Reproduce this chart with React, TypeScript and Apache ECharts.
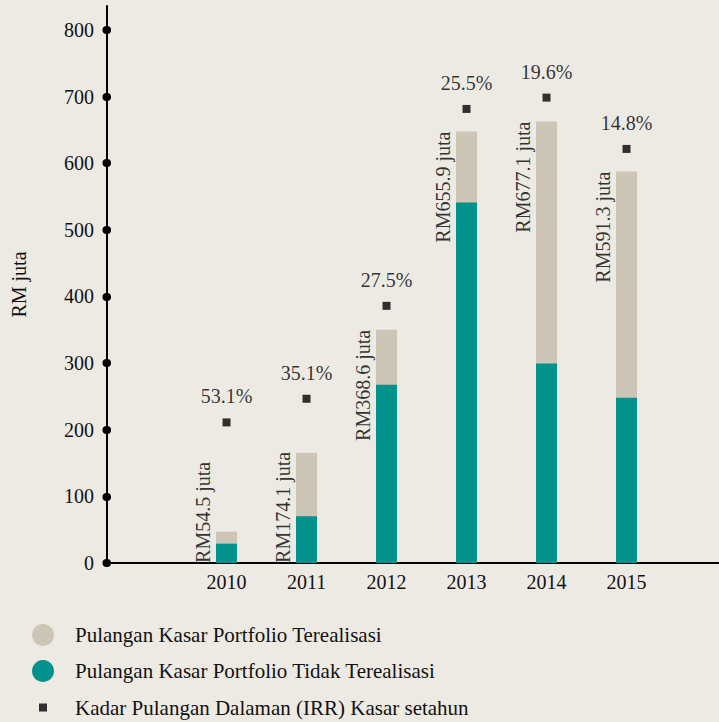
import React, { useEffect, useRef } from "react";
import * as echarts from "echarts";

const years = ["2010", "2011", "2012", "2013", "2014", "2015"];
const unrealised = [29, 70, 267.5, 541, 299.5, 248];
const realised = [18, 95.5, 82.5, 106.5, 363, 339.5];
const totalLabels = ["RM54.5 juta", "RM174.1 juta", "RM368.6 juta", "RM655.9 juta", "RM677.1 juta", "RM591.3 juta"];
const irrLevel = [211, 246.5, 386, 681.5, 698.5, 621.5];
const irrLabels = ["53.1%", "35.1%", "27.5%", "25.5%", "19.6%", "14.8%"];
const yTicks = [0, 100, 200, 300, 400, 500, 600, 700, 800];

const N_REAL = "Pulangan Kasar Portfolio Terealisasi";
const N_UNREAL = "Pulangan Kasar Portfolio Tidak Terealisasi";
const N_IRR = "Kadar Pulangan Dalaman (IRR) Kasar setahun";

const FONT = "'Liberation Serif', 'Times New Roman', serif";
const TXT = "#111111";
const GREY = "#cdc6b7";
const TEAL = "#00928b";
const BG = "#edeae4";

export default function App() {
  const ref = useRef<HTMLDivElement>(null);
  useEffect(() => {
    const chart = echarts.init(ref.current!, null, { renderer: "svg" });
    const totals = unrealised.map((v, i) => v + realised[i]);
    const legendText = (pad: number) => ({
      fontSize: 21,
      fontFamily: FONT,
      color: TXT,
      padding: [0, 0, 0, pad],
    });
    chart.setOption({
      animation: false,
      backgroundColor: BG,
      textStyle: { fontFamily: FONT },
      grid: { left: 107, right: 0, top: 6, bottom: 159, containLabel: false, outerBoundsMode: "none" },
      legend: [
        {
          data: [{ name: N_REAL, icon: "circle" }],
          left: 32, top: 624, itemWidth: 22, itemHeight: 22, padding: 0,
          selectedMode: false, textStyle: legendText(16),
        },
        {
          data: [{ name: N_UNREAL, icon: "circle" }],
          left: 32, top: 660, itemWidth: 22, itemHeight: 22, padding: 0,
          selectedMode: false, textStyle: legendText(16),
        },
        {
          data: [{ name: N_IRR, icon: "rect" }],
          left: 39, top: 697, itemWidth: 8, itemHeight: 8, padding: 0,
          selectedMode: false, textStyle: legendText(23),
        },
      ],
      xAxis: {
        type: "value",
        min: -1.494,
        max: 6.156,
        splitLine: { show: false },
        axisLine: { show: true, onZero: false, lineStyle: { color: "#000", width: 2 } },
        axisTick: { show: false },
        axisLabel: {
          customValues: [0, 1, 2, 3, 4, 5],
          formatter: (v: number) => years[Math.round(v)] ?? "",
          fontSize: 20,
          fontFamily: FONT,
          color: TXT,
          margin: 9,
        },
      },
      yAxis: {
        type: "value",
        min: 0,
        max: 836,
        name: "RM juta",
        nameLocation: "middle",
        nameGap: 78,
        nameTextStyle: { fontSize: 20, fontFamily: FONT, color: TXT },
        splitLine: { show: false },
        axisLine: { show: true, onZero: false, lineStyle: { color: "#000", width: 2 } },
        axisTick: {
          show: true,
          customValues: yTicks,
          length: 0.5,
          lineStyle: { color: "#000", width: 8, cap: "round" },
        },
        axisLabel: {
          customValues: yTicks,
          fontSize: 20,
          fontFamily: FONT,
          color: TXT,
          margin: 13,
        },
      },
      series: [
        {
          name: N_REAL,
          type: "bar",
          barWidth: 21,
          barGap: "-100%",
          itemStyle: { color: GREY },
          data: totals.map((v, i) => [i, v]),
        },
        {
          name: N_UNREAL,
          type: "bar",
          barWidth: 21,
          barGap: "-100%",
          z: 3,
          itemStyle: { color: TEAL },
          data: unrealised.map((v, i) => [i, v]),
        },
        {
          name: N_IRR,
          type: "scatter",
          symbol: "rect",
          symbolSize: 8,
          itemStyle: { color: "#000" },
          z: 5,
          data: irrLevel.map((v, i) => [i, v]),
          label: {
            show: true,
            position: "top",
            distance: 12,
            fontSize: 20,
            fontFamily: FONT,
            color: "#000",
            formatter: (p: any) => irrLabels[p.dataIndex],
          },
        },
        {
          name: "totalLabels",
          type: "scatter",
          symbolSize: 0.1,
          silent: true,
          itemStyle: { color: "transparent" },
          z: 6,
          data: totals.map((t, i) => {
            const bottom = i < 2;
            return {
              value: [i, bottom ? 0 : t],
              label: { align: bottom ? "left" : "right" },
            };
          }),
          label: {
            show: true,
            position: [-23, 0],
            rotate: 90,
            verticalAlign: "middle",
            fontSize: 20,
            fontFamily: FONT,
            color: "#000",
            formatter: (p: any) => totalLabels[p.dataIndex],
          },
        },
      ],
    });
    return () => chart.dispose();
  }, []);
  return (
    <div
      ref={ref}
      style={{ position: "absolute", left: 0, top: 0, width: 719, height: 722 }}
    />
  );
}
